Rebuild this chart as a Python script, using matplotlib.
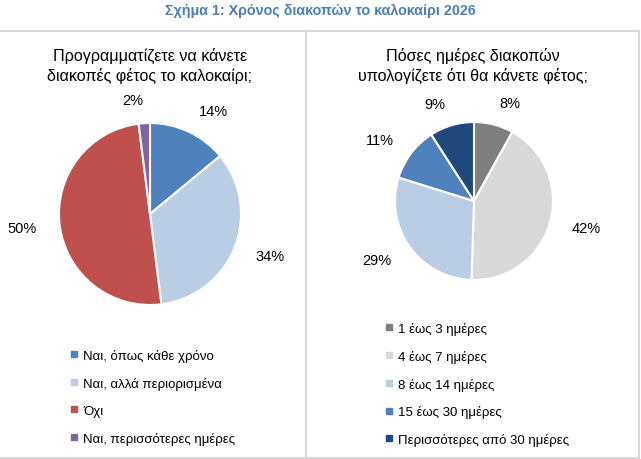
import matplotlib.pyplot as plt
from matplotlib.lines import Line2D

plt.rcParams['font.family'] = ['Liberation Sans', 'DejaVu Sans']

# Data
title = 'Σχήμα 1: Χρόνος διακοπών το καλοκαίρι 2026'

left_title = 'Προγραμματίζετε να κάνετε\nδιακοπές φέτος το καλοκαίρι;'
left_labels = ['Ναι, όπως κάθε χρόνο', 'Ναι, αλλά περιορισμένα', 'Όχι',
               'Ναι, περισσότερες ημέρες']
left_values = [14, 34, 50, 2]
left_colors = ['#4F81BD', '#B9CDE5', '#C0504D', '#8064A2']

right_title = 'Πόσες ημέρες διακοπών\nυπολογίζετε ότι θα κάνετε φέτος;'
right_labels = ['1 έως 3 ημέρες', '4 έως 7 ημέρες', '8 έως 14 ημέρες',
                '15 έως 30 ημέρες', 'Περισσότερες από 30 ημέρες']
right_values = [8, 42, 29, 11, 9]
right_colors = ['#7F7F7F', '#D9D9D9', '#B9CDE5', '#4F81BD', '#1F497D']

W, H = 641, 460
fig = plt.figure(figsize=(W / 100, H / 100), dpi=100)


def px_axes(cx, cy, r):
    # axes square around a pie centre given in pixels from top-left
    return fig.add_axes([(cx - r) / W, (H - cy - r) / H, 2 * r / W, 2 * r / H])


def draw_pie(ax, values, colors, ldist):
    ax.pie(values, colors=colors, startangle=90, counterclock=False,
           labels=[f'{v}%' for v in values], labeldistance=ldist,
           wedgeprops=dict(edgecolor='white', linewidth=1.5),
           textprops=dict(fontsize=10.5, color='black'))
    ax.set_xlim(-1, 1)
    ax.set_ylim(-1, 1)
    ax.set_aspect('equal')


def draw_legend(labels, colors, x, y):
    handles = [Line2D([], [], marker='s', linestyle='', markersize=4.5,
                      markerfacecolor=c, markeredgecolor=c) for c in colors]
    fig.legend(handles, labels, loc='upper left',
               bbox_to_anchor=(x / W, 1 - y / H), frameon=False,
               fontsize=9.5, handlelength=0.6, handletextpad=0.4,
               labelspacing=1.12, borderaxespad=0, borderpad=0)


ax1 = px_axes(150, 215, 91)
draw_pie(ax1, left_values, left_colors, 1.25)
ax2 = px_axes(474, 202, 79)
draw_pie(ax2, right_values, right_colors, 1.28)

draw_legend(left_labels, left_colors, 70, 350)
draw_legend(right_labels, right_colors, 385, 323)

fig.text(320 / W, 1 - 11 / H, title, ha='center', va='center',
         fontsize=10.3, fontweight='bold', color='#4A7EBB')
fig.text(150 / W, 1 - 66 / H, left_title, ha='center', va='center',
         fontsize=11.6, linespacing=1.3)
fig.text(473 / W, 1 - 66 / H, right_title, ha='center', va='center',
         fontsize=11.6, linespacing=1.3)

# panel frames
frame = dict(color='#D9D9D9', linewidth=1.5)
fig.add_artist(Line2D([0, 639 / W], [1 - 32 / H] * 2, **frame))
fig.add_artist(Line2D([0, 639 / W], [1 - 459 / H] * 2, **frame))
fig.add_artist(Line2D([306 / W] * 2, [1 - 32 / H, 1 - 459 / H], **frame))
fig.add_artist(Line2D([639 / W] * 2, [1 - 32 / H, 1 - 459 / H], **frame))

fig.savefig('out.png', dpi=100)
